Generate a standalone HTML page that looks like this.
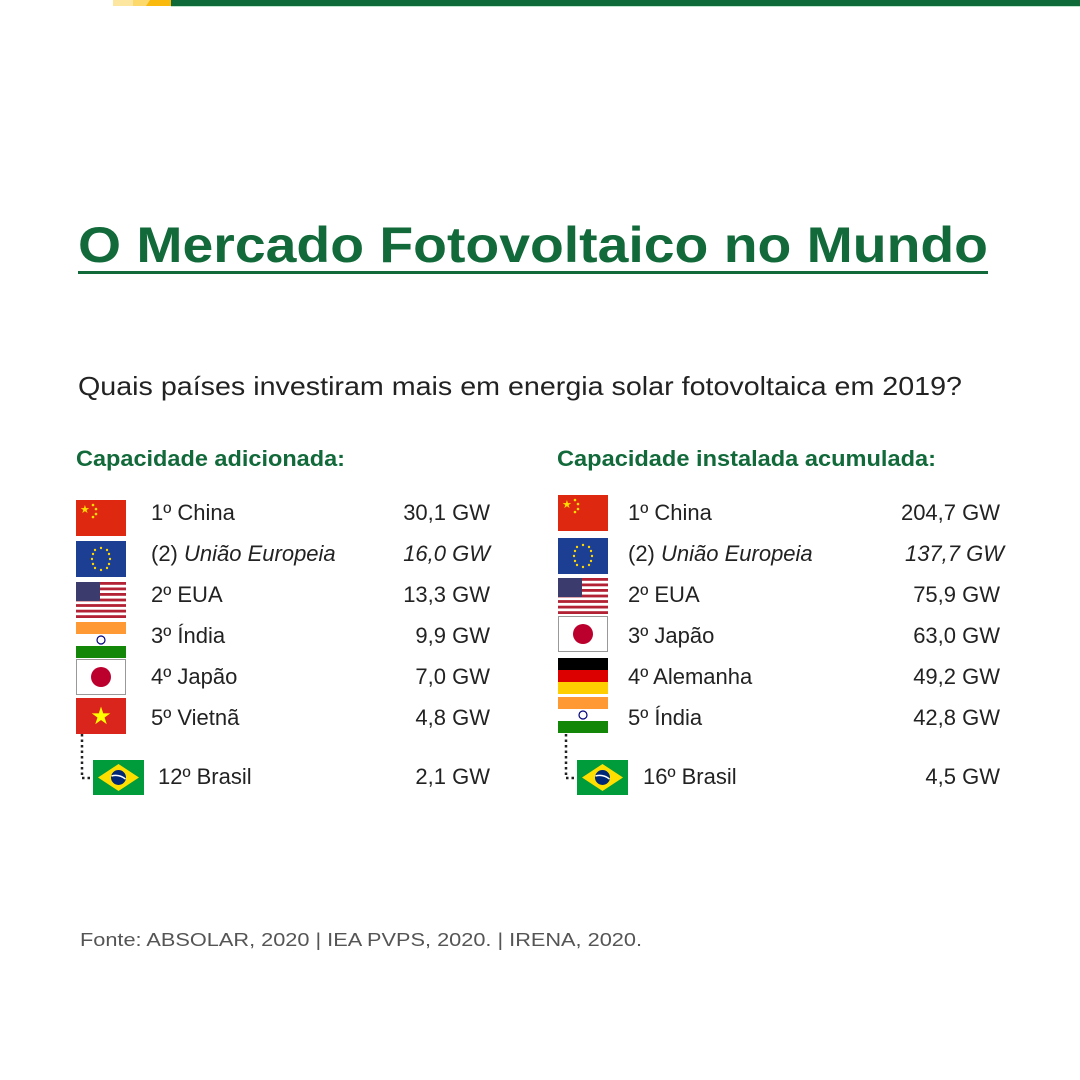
<!DOCTYPE html>
<html><head><meta charset="utf-8"><style>html,body{margin:0;padding:0;background:#fff}svg{display:block}</style></head>
<body>
<svg width="1080" height="1080" viewBox="0 0 1080 1080" xmlns="http://www.w3.org/2000/svg" font-family="Liberation Sans, sans-serif">
<defs>
<g id="cn"><rect width="50" height="36" fill="#de2910"/><text x="4" y="13" font-size="11" fill="#ffde00">★</text><circle cx="17" cy="5" r="1.3" fill="#ffde00"/><circle cx="20" cy="9" r="1.3" fill="#ffde00"/><circle cx="20" cy="14" r="1.3" fill="#ffde00"/><circle cx="17" cy="17" r="1.3" fill="#ffde00"/></g>
<g id="eu"><rect width="50" height="36" fill="#1c3f94"/><g fill="#ffd700"><circle cx="25" cy="7" r="1.2"/><circle cx="31" cy="9" r="1.2"/><circle cx="34" cy="18" r="1.2"/><circle cx="31" cy="27" r="1.2"/><circle cx="25" cy="29" r="1.2"/><circle cx="19" cy="27" r="1.2"/><circle cx="16" cy="18" r="1.2"/><circle cx="19" cy="9" r="1.2"/><circle cx="33" cy="13" r="1.2"/><circle cx="33" cy="23" r="1.2"/><circle cx="17" cy="13" r="1.2"/><circle cx="17" cy="23" r="1.2"/></g></g>
<g id="us"><rect width="50" height="36" fill="#fff"/><g fill="#b22234"><rect y="0" width="50" height="2.8"/><rect y="5.5" width="50" height="2.8"/><rect y="11" width="50" height="2.8"/><rect y="16.6" width="50" height="2.8"/><rect y="22.1" width="50" height="2.8"/><rect y="27.7" width="50" height="2.8"/><rect y="33.2" width="50" height="2.8"/></g><rect width="24" height="19" fill="#3c3b6e"/></g>
<g id="in"><rect width="50" height="12" fill="#ff9933"/><rect y="12" width="50" height="12" fill="#fff"/><rect y="24" width="50" height="12" fill="#138808"/><circle cx="25" cy="18" r="4" fill="none" stroke="#000080" stroke-width="1.2"/></g>
<g id="jp"><rect x="0.5" y="0.5" width="49" height="35" fill="#fff" stroke="#999"/><circle cx="25" cy="18" r="10" fill="#bc002d"/></g>
<g id="vn"><rect width="50" height="36" fill="#da251d"/><text x="25" y="26" font-size="24" fill="#ffff00" text-anchor="middle">★</text></g>
<g id="de"><rect width="50" height="12" fill="#000"/><rect y="12" width="50" height="12" fill="#dd0000"/><rect y="24" width="50" height="12" fill="#ffce00"/></g>
<g id="br"><rect width="51" height="35" fill="#009b3a"/><polygon points="25.5,4 46,17.5 25.5,31 5,17.5" fill="#fedf00"/><circle cx="25.5" cy="17.5" r="7.5" fill="#002776"/><path d="M18.5 16 Q26 14 32.5 19" stroke="#fff" stroke-width="1.5" fill="none"/></g>
</defs>
<polygon points="113,0 175,0 171,6 113,6" fill="#fdd86a"/>
<rect x="113" y="0" width="20" height="6" fill="#fde7a0"/>
<polygon points="150,0 175,0 171,6 146,6" fill="#f9b90d"/>
<rect x="171" y="0" width="909" height="6" fill="#0f6a3a"/>
<rect x="171" y="6" width="909" height="1" fill="#bfe6cf"/>

<text x="78" y="262" font-size="50" font-weight="bold" fill="#12693a" textLength="910" lengthAdjust="spacingAndGlyphs">O Mercado Fotovoltaico no Mundo</text>
<rect x="78" y="271" width="910" height="3" fill="#12693a"/>
<text x="78" y="395" font-size="26" fill="#222" textLength="884" lengthAdjust="spacingAndGlyphs">Quais países investiram  mais em energia  solar fotovoltaica em 2019?</text>
<text x="76" y="466" font-size="22" font-weight="bold" fill="#12693a" textLength="269" lengthAdjust="spacingAndGlyphs">Capacidade adicionada:</text>
<text x="557" y="466" font-size="22" font-weight="bold" fill="#12693a" textLength="379" lengthAdjust="spacingAndGlyphs">Capacidade instalada acumulada:</text>

<g font-size="22" fill="#222">
<use href="#cn" x="76" y="500"/><text x="151" y="520">1º China</text><text x="490" y="520" text-anchor="end">30,1 GW</text>
<use href="#eu" x="76" y="541"/><text x="151" y="561">(2) <tspan font-style="italic">União Europeia</tspan></text><text x="490" y="561" text-anchor="end" font-style="italic">16,0 GW</text>
<use href="#us" x="76" y="582"/><text x="151" y="602">2º EUA</text><text x="490" y="602" text-anchor="end">13,3 GW</text>
<use href="#in" x="76" y="622"/><text x="151" y="643">3º Índia</text><text x="490" y="643" text-anchor="end">9,9 GW</text>
<use href="#jp" x="76" y="659"/><text x="151" y="684">4º Japão</text><text x="490" y="684" text-anchor="end">7,0 GW</text>
<use href="#vn" x="76" y="698"/><text x="151" y="725">5º Vietnã</text><text x="490" y="725" text-anchor="end">4,8 GW</text>
<path d="M82 734 V778 H92" stroke="#222" stroke-width="2.5" stroke-dasharray="2.5 3" fill="none"/>
<use href="#br" x="93" y="760"/><text x="158" y="784">12º Brasil</text><text x="490" y="784" text-anchor="end">2,1 GW</text>

<use href="#cn" x="558" y="495"/><text x="628" y="520">1º China</text><text x="1000" y="520" text-anchor="end">204,7 GW</text>
<use href="#eu" x="558" y="538"/><text x="628" y="561">(2) <tspan font-style="italic">União Europeia</tspan></text><text x="1004" y="561" text-anchor="end" font-style="italic">137,7 GW</text>
<use href="#us" x="558" y="578"/><text x="628" y="602">2º EUA</text><text x="1000" y="602" text-anchor="end">75,9 GW</text>
<use href="#jp" x="558" y="616"/><text x="628" y="643">3º Japão</text><text x="1000" y="643" text-anchor="end">63,0 GW</text>
<use href="#de" x="558" y="658"/><text x="628" y="684">4º Alemanha</text><text x="1000" y="684" text-anchor="end">49,2 GW</text>
<use href="#in" x="558" y="697"/><text x="628" y="725">5º Índia</text><text x="1000" y="725" text-anchor="end">42,8 GW</text>
<path d="M566 734 V778 H576" stroke="#222" stroke-width="2.5" stroke-dasharray="2.5 3" fill="none"/>
<use href="#br" x="577" y="760"/><text x="643" y="784">16º Brasil</text><text x="1000" y="784" text-anchor="end">4,5 GW</text>
</g>

<text x="80" y="946" font-size="18" fill="#555" textLength="562" lengthAdjust="spacingAndGlyphs">Fonte: ABSOLAR, 2020  |  IEA PVPS, 2020.   |  IRENA, 2020.</text>
</svg>
</body></html>
